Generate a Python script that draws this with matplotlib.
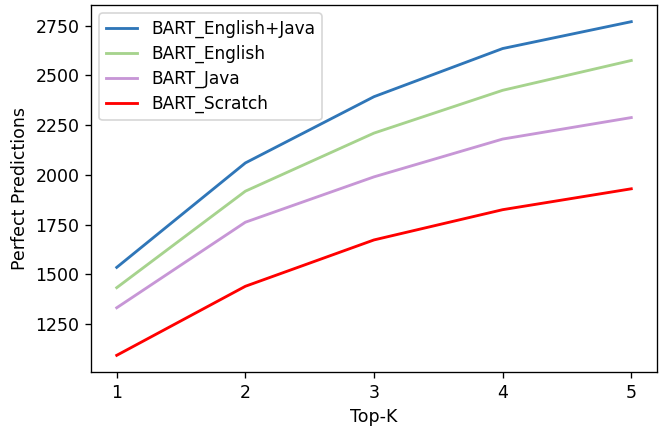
import matplotlib
matplotlib.use("Agg")
import matplotlib.pyplot as plt

top_k = [1, 2, 3, 4, 5]
english_java = [1535, 2060, 2393, 2635, 2770]
english = [1433, 1918, 2210, 2425, 2575]
java = [1332, 1762, 1990, 2180, 2288]
scratch = [1093, 1440, 1673, 1825, 1930]

labels = ["BART_English+Java", "BART_English", "BART_Java", "BART_Scratch"]
colors = ["#2f76b8", "#a6d38d", "#c796d6", "#ff0000"]

plt.rcParams["font.size"] = 10.4

fig = plt.figure(figsize=(662 / 120, 428 / 120), dpi=120)
ax = fig.add_axes([91 / 662, 1 - 372 / 428, (657 - 91) / 662, (372 - 5) / 428])

for series, label, color in zip([english_java, english, java, scratch], labels, colors):
    ax.plot(top_k, series, label=label, color=color, linewidth=1.7)

ax.set_xticks(top_k)
ax.set_xlabel("Top-K")
ax.set_ylabel("Perfect Predictions")
ax.legend(loc="upper left", fontsize=10.2, labelspacing=0.4,
          borderaxespad=0.48, handlelength=1.85)

fig.savefig("out.png", dpi=120)
